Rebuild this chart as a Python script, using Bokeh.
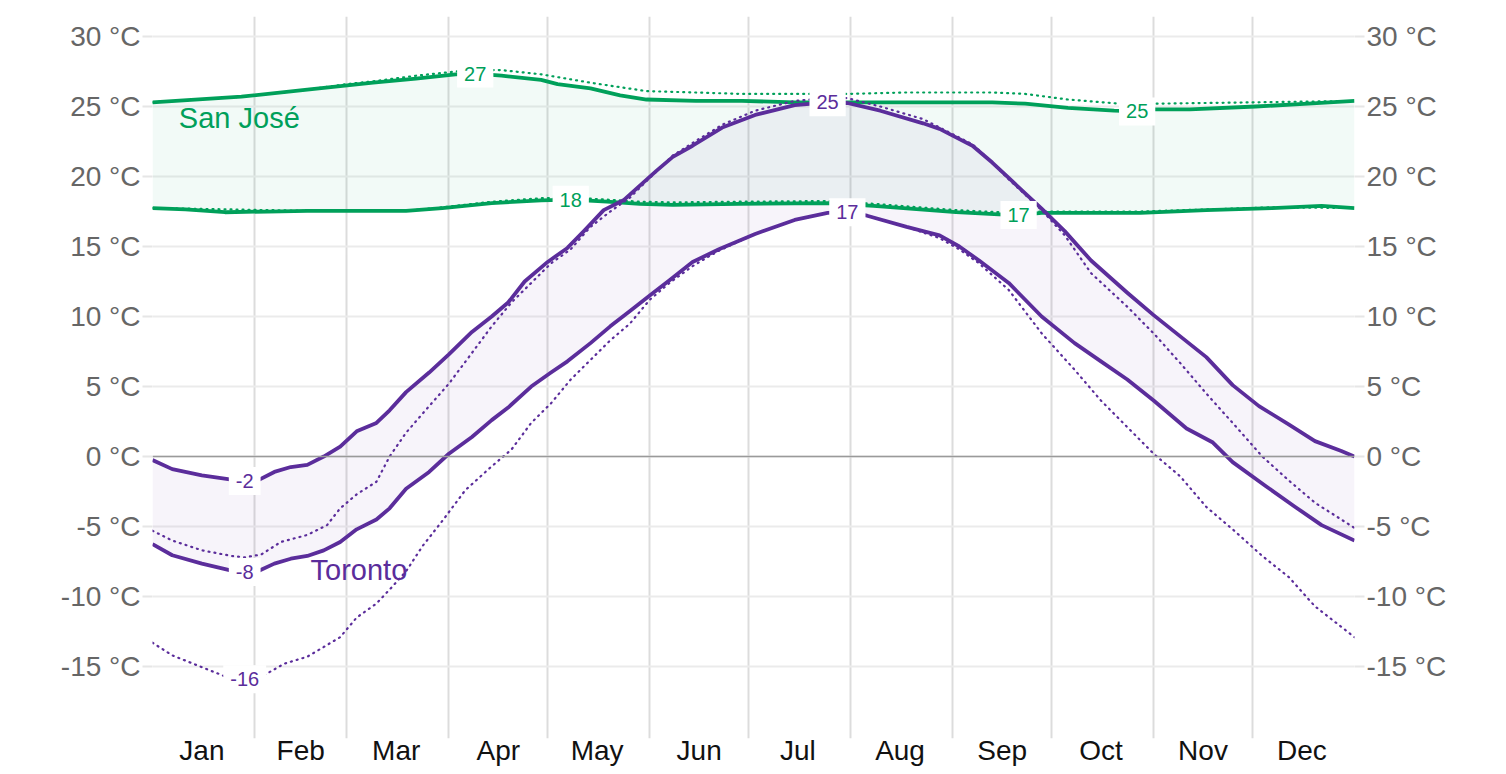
from bokeh.plotting import figure
from bokeh.models import FixedTicker, Range1d, LinearAxis, Span, ColumnDataSource
from bokeh.embed import file_html
from bokeh.resources import INLINE
from bokeh.core.properties import value

# ---------------- data ----------------
months = ["Jan", "Feb", "Mar", "Apr", "May", "Jun", "Jul", "Aug", "Sep", "Oct", "Nov", "Dec"]
month_start_days = [0, 31, 59, 90, 120, 151, 181, 212, 243, 273, 304, 334, 365]
y_ticks = [-15, -10, -5, 0, 5, 10, 15, 20, 25, 30]

tor_high_days = [0, 6, 15, 24, 28, 32, 37, 42, 47, 52, 57, 62, 68, 72, 77, 84, 90, 97, 103, 108,
                 113, 120, 126, 131, 137, 143, 153, 158, 164, 173, 183, 195, 205, 211, 221, 234,
                 239, 244, 249, 255, 260, 265, 270, 277, 285, 296, 304, 312, 320, 328, 336, 345,
                 353, 361, 365]
tor_high = [-0.25, -0.9, -1.35, -1.65, -1.75, -1.7, -1.1, -0.75, -0.6, 0.0, 0.7, 1.8, 2.4, 3.3, 4.6,
            6.0, 7.3, 8.9, 10.0, 11.0, 12.5, 13.9, 14.9, 16.1, 17.6, 18.3, 20.4, 21.4, 22.2, 23.5,
            24.4, 25.1, 25.3, 25.25, 24.7, 23.8, 23.4, 22.8, 22.2, 21.0, 19.9, 18.8, 17.7, 16.1,
            14.0, 11.7, 10.1, 8.6, 7.1, 5.1, 3.6, 2.3, 1.1, 0.4, 0.0]

tor_low_days = [0, 6, 15, 24, 28, 32, 37, 42, 47, 52, 57, 62, 68, 72, 77, 84, 90, 97, 103, 108, 115,
                121, 126, 133, 139, 145, 151, 157, 164, 172, 183, 195, 205, 211, 217, 229, 239, 245,
                251, 260, 270, 280, 288, 296, 304, 314, 322, 328, 338, 347, 355, 365]
tor_low = [-6.25, -7.05, -7.65, -8.15, -8.25, -8.2, -7.65, -7.3, -7.1, -6.7, -6.1, -5.2, -4.5, -3.7,
           -2.3, -1.1, 0.2, 1.4, 2.6, 3.5, 5.0, 6.0, 6.8, 8.1, 9.3, 10.4, 11.5, 12.6, 13.9, 14.8,
           15.9, 16.9, 17.4, 17.45, 17.2, 16.4, 15.8, 15.0, 14.0, 12.4, 10.0, 8.1, 6.8, 5.5, 4.0,
           2.0, 1.0, -0.4, -2.1, -3.6, -4.9, -6.0]

tor_feel_high_days = [0, 6, 15, 24, 28, 33, 39, 47, 53, 57, 62, 68, 72, 77, 84, 90, 97, 103, 109, 115,
                      121, 127, 133, 139, 145, 151, 158, 164, 173, 183, 195, 205, 211, 221, 234, 244,
                      249, 255, 260, 270, 277, 285, 296, 304, 312, 320, 328, 337, 345, 353, 365]
tor_feel_high = [-5.3, -6.0, -6.7, -7.1, -7.2, -7.0, -6.1, -5.6, -4.9, -3.7, -2.7, -1.8, 0.0, 1.7,
                 3.6, 5.2, 7.4, 9.3, 11.0, 12.4, 13.8, 14.8, 16.4, 17.5, 18.5, 19.9, 21.5, 22.4, 23.7,
                 24.7, 25.4, 25.6, 25.6, 25.0, 24.1, 22.9, 22.3, 21.0, 19.8, 17.6, 15.8, 13.1, 10.7,
                 8.8, 6.7, 4.5, 2.4, 0.0, -1.7, -3.3, -5.1]

tor_feel_low_days = [0, 6, 15, 22, 28, 34, 40, 47, 57, 62, 68, 72, 77, 82, 88, 95, 103, 109, 115, 121,
                     127, 133, 139, 145, 151, 157, 164, 169, 172, 183, 195, 205, 211, 217, 229, 239,
                     245, 251, 260, 270, 280, 288, 296, 304, 312, 320, 328, 337, 345, 353, 365]
tor_feel_low = [-13.3, -14.2, -15.05, -15.7, -15.9, -15.6, -14.8, -14.3, -12.9, -11.5, -10.5, -9.5,
                -8.2, -6.4, -4.6, -2.4, -0.7, 0.5, 2.4, 3.8, 5.5, 6.9, 8.3, 9.5, 11.2, 12.4, 13.6,
                14.3, 14.7, 15.9, 16.9, 17.4, 17.4, 17.2, 16.4, 15.6, 14.8, 13.8, 11.9, 8.8, 6.2,
                4.0, 2.1, 0.2, -1.4, -3.6, -5.2, -7.1, -8.6, -10.7, -12.9]

sj_high_days = [0, 27, 47, 67, 80, 92, 98, 106, 118, 123, 133, 142, 150, 165, 179, 195, 211, 228,
                244, 255, 265, 278, 292, 299, 304, 315, 335, 351, 365]
sj_high = [25.3, 25.7, 26.2, 26.7, 27.0, 27.3, 27.35, 27.2, 26.9, 26.6, 26.3, 25.8, 25.5, 25.4, 25.4,
           25.3, 25.3, 25.3, 25.3, 25.3, 25.2, 24.9, 24.7, 24.65, 24.8, 24.8, 25.0, 25.2, 25.4]

sj_feel_high_days = [0, 27, 47, 59, 67, 80, 92, 98, 106, 118, 133, 150, 165, 179, 195, 211, 228, 244,
                     255, 265, 278, 294, 304, 335, 365]
sj_feel_high = [25.3, 25.7, 26.2, 26.6, 26.8, 27.2, 27.5, 27.6, 27.6, 27.3, 26.7, 26.1, 26.0, 25.9,
                25.9, 25.9, 26.0, 26.0, 26.0, 25.9, 25.5, 25.2, 25.2, 25.3, 25.4]

sj_low_days = [0, 10, 22, 35, 47, 77, 88, 103, 118, 127, 138, 148, 158, 178, 205, 219, 230, 244, 257,
               263, 270, 300, 320, 340, 355, 365]
sj_low = [17.75, 17.65, 17.45, 17.5, 17.55, 17.55, 17.75, 18.1, 18.3, 18.35, 18.2, 18.05, 17.98, 18.05,
          18.1, 17.9, 17.7, 17.45, 17.3, 17.25, 17.4, 17.4, 17.6, 17.75, 17.9, 17.75]

sj_feel_low_days = [0, 47, 77, 88, 103, 118, 127, 138, 148, 158, 178, 205, 219, 230, 244, 257, 263, 270,
                    300, 320, 340, 365]
sj_feel_low = [17.75, 17.55, 17.55, 17.8, 18.2, 18.45, 18.5, 18.35, 18.2, 18.15, 18.2, 18.25, 18.05,
               17.85, 17.6, 17.45, 17.4, 17.5, 17.5, 17.65, 17.8, 17.75]

# ---------------- style ----------------
GREEN = "#00a05a"
PURPLE = "#5b2d9b"
FONT = "Liberation Sans"

p = figure(width=1506, height=774, output_backend="svg", toolbar_location=None,
           x_range=Range1d(0, 365), y_range=Range1d(-20.14, 31.43),
           min_border_left=152, min_border_right=152, min_border_top=16, min_border_bottom=36)
p.outline_line_color = None
p.background_fill_color = "white"
p.border_fill_color = "white"

# grids
p.xgrid.ticker = FixedTicker(ticks=month_start_days[1:-1])
p.xgrid.grid_line_color = "#dcdcdc"
p.xgrid.grid_line_width = 2
p.ygrid.ticker = FixedTicker(ticks=y_ticks)
p.ygrid.grid_line_color = "#ebebeb"
p.ygrid.grid_line_width = 2

# x axis (month names at mid-month)
mids = [int((a + b) // 2) for a, b in zip(month_start_days[:-1], month_start_days[1:])]
xa = p.xaxis[0]
xa.ticker = FixedTicker(ticks=mids)
xa.major_label_overrides = {m: name for m, name in zip(mids, months)}
xa.axis_line_color = None
xa.major_tick_line_color = None
xa.minor_tick_line_color = None
xa.major_label_text_font = FONT
xa.major_label_text_font_size = "28px"
xa.major_label_text_color = "#111111"
xa.major_label_standoff = -10

# y axes both sides
ya = p.yaxis[0]
yr = LinearAxis()
p.add_layout(yr, "right")
for ax in (ya, yr):
    ax.ticker = FixedTicker(ticks=y_ticks)
    ax.major_label_overrides = {t: f"{t} °C" for t in y_ticks}
    ax.axis_line_color = None
    ax.minor_tick_line_color = None
    ax.major_tick_in = 0
    ax.major_tick_out = 10
    ax.major_tick_line_color = "#e6e6e6"
    ax.major_tick_line_width = 2
    ax.major_label_text_font = FONT
    ax.major_label_text_font_size = "28px"
    ax.major_label_text_color = "#666666"
    ax.major_label_standoff = 2

# bands
p.patch(sj_high_days + sj_low_days[::-1], sj_high + sj_low[::-1],
        fill_color=GREEN, fill_alpha=0.05, line_color=None)
p.patch(tor_high_days + tor_low_days[::-1], tor_high + tor_low[::-1],
        fill_color=PURPLE, fill_alpha=0.05, line_color=None)

p.add_layout(Span(location=0, dimension="width", line_color="#9a9a9a", line_width=1.5))

# lines
for d, v in ((sj_feel_high_days, sj_feel_high), (sj_feel_low_days, sj_feel_low)):
    p.line(d, v, line_color=GREEN, line_width=2.2, line_dash="1 5", line_cap="round")
for d, v in ((sj_high_days, sj_high), (sj_low_days, sj_low)):
    p.line(d, v, line_color=GREEN, line_width=3.8, line_join="round")
for d, v in ((tor_feel_high_days, tor_feel_high), (tor_feel_low_days, tor_feel_low)):
    p.line(d, v, line_color=PURPLE, line_width=2.2, line_dash="1 5", line_cap="round")
for d, v in ((tor_high_days, tor_high), (tor_low_days, tor_low)):
    p.line(d, v, line_color=PURPLE, line_width=3.8, line_join="round")

# extreme labels computed from the series
def ext(days, vals, kind):
    i = vals.index(max(vals) if kind == "max" else min(vals))
    return days[i], vals[i]

labels = []
for days, vals, kinds, col in (
        (tor_high_days, tor_high, ("min", "max"), PURPLE),
        (tor_low_days, tor_low, ("min", "max"), PURPLE),
        (tor_feel_low_days, tor_feel_low, ("min",), PURPLE),
        (sj_high_days, sj_high, ("min", "max"), GREEN),
        (sj_low_days, sj_low, ("min", "max"), GREEN)):
    for k in kinds:
        dx, vy = ext(days, vals, k)
        labels.append((dx, vy, f"{round(vy):d}", col))

src = ColumnDataSource(dict(x=[l[0] for l in labels], y=[l[1] for l in labels],
                            t=[l[2] for l in labels], c=[l[3] for l in labels]))
p.text(x="x", y="y", text="t", text_color="c", source=src,
       text_font=value(FONT), text_font_size=value("20px"),
       text_align="center", text_baseline="middle",
       background_fill_color="white", background_fill_alpha=1.0, padding=7)

# city names
p.text(x=[8], y=[24.2], text=["San José"], text_color=GREEN, text_font=value(FONT),
       text_font_size=value("29px"), text_align="left", text_baseline="middle")
p.text(x=[48], y=[-8.1], text=["Toronto"], text_color=PURPLE, text_font=value(FONT),
       text_font_size=value("29px"), text_align="left", text_baseline="middle")

open("out.html", "w").write(file_html(p, INLINE))
